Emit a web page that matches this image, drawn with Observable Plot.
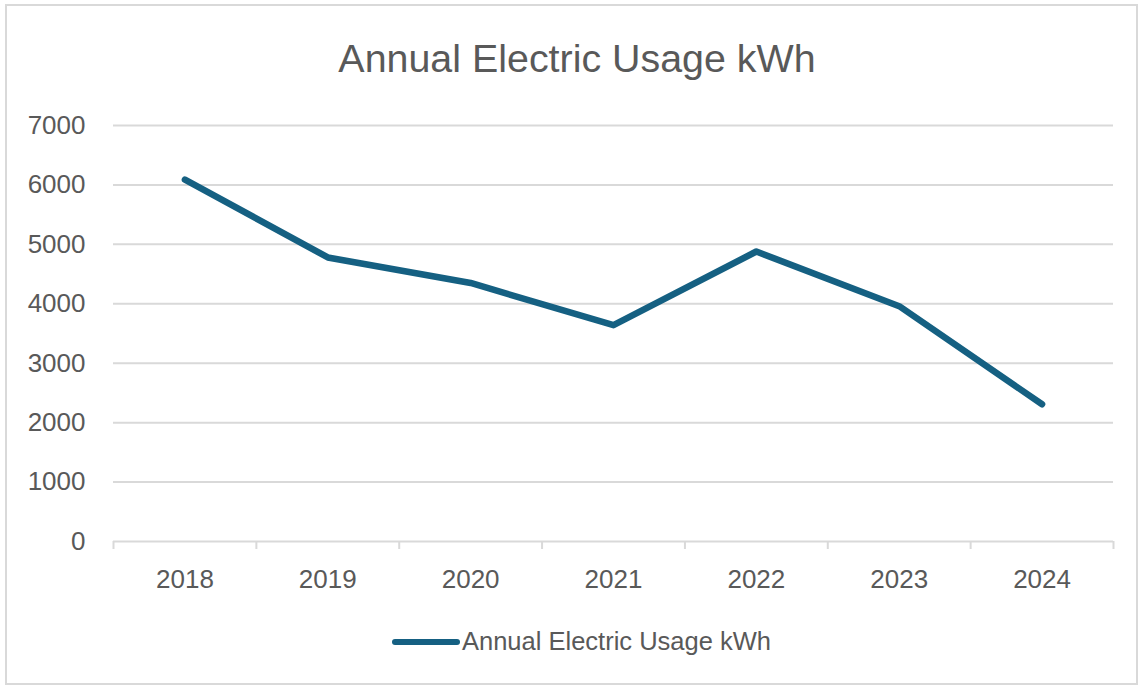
<!DOCTYPE html>
<html>
<head>
<meta charset="utf-8">
<script src="https://cdn.jsdelivr.net/npm/d3@7"></script>
<script src="https://cdn.jsdelivr.net/npm/@observablehq/plot@0.6"></script>
<style>
  html, body { margin: 0; padding: 0; background: #fff; }
  #wrap { position: relative; width: 1141px; height: 686px; overflow: hidden; font-family: "Liberation Sans", Arial, sans-serif; color: #595959; }
  #frame { position: absolute; left: 5px; top: 4px; width: 1133px; height: 681px; box-sizing: border-box; border: 2px solid #d9d9d9; }
  #title { position: absolute; left: 0; top: 39px; width: 1154px; text-align: center; font-size: 39.4px; line-height: 39px; white-space: nowrap; }
  #chart { position: absolute; left: 0; top: 95px; }
  #swatch { position: absolute; left: 392px; top: 639px; width: 68px; height: 6px; border-radius: 3px; background: #156082; }
  #legendText { position: absolute; left: 462px; top: 629px; font-size: 25.5px; line-height: 25px; white-space: nowrap; }
</style>
</head>
<body>
<div id="wrap">
  <div id="frame"></div>
  <div id="title"></div>
  <div id="chart"></div>
  <div id="swatch"></div>
  <div id="legendText"></div>
</div>
<script>
const chartTitle = "Annual Electric Usage kWh";
const seriesName = "Annual Electric Usage kWh";
const years = ["2018", "2019", "2020", "2021", "2022", "2023", "2024"];
const usage = [6090, 4780, 4350, 3640, 4880, 3960, 2310];
const yTicks = [0, 1000, 2000, 3000, 4000, 5000, 6000, 7000];
const lineColor = "#156082";

document.getElementById("title").textContent = chartTitle;
document.getElementById("legendText").textContent = seriesName;

const data = years.map((y, i) => ({year: y, idx: i + 0.5, value: usage[i]}));
const centers = data.map(d => d.idx);
const bounds = d3.range(years.length + 1);

const plot = Plot.plot({
  width: 1141,
  height: 515,
  marginLeft: 113,
  marginRight: 28,
  marginTop: 30,
  marginBottom: 69,
  style: {fontSize: "26px", fontFamily: "'Liberation Sans', Arial, sans-serif", color: "#595959", background: "transparent"},
  x: {type: "linear", domain: [0, years.length], axis: null, label: null},
  y: {domain: [0, 7000], axis: null, label: null},
  marks: [
    Plot.gridY(yTicks.filter(d => d > 0), {stroke: "#d9d9d9", strokeOpacity: 1, strokeWidth: 2}),
    Plot.ruleY([0], {stroke: "#d9d9d9", strokeWidth: 2}),
    Plot.axisX(bounds, {tickSize: 8, tickFormat: () => "", label: null, stroke: "#d9d9d9", strokeWidth: 2, strokeOpacity: 1}),
    Plot.axisX(centers, {tickSize: 0, tickPadding: 28, label: null, tickFormat: d => years[Math.floor(d)], fill: "#595959"}),
    Plot.axisY(yTicks, {tickSize: 0, tickPadding: 28, label: null, tickFormat: d => String(d), fill: "#595959"}),
    Plot.line(data, {x: "idx", y: "value", stroke: lineColor, strokeWidth: 6.5, strokeLinecap: "round", strokeLinejoin: "round"})
  ]
});
document.getElementById("chart").appendChild(plot);
</script>
</body>
</html>
